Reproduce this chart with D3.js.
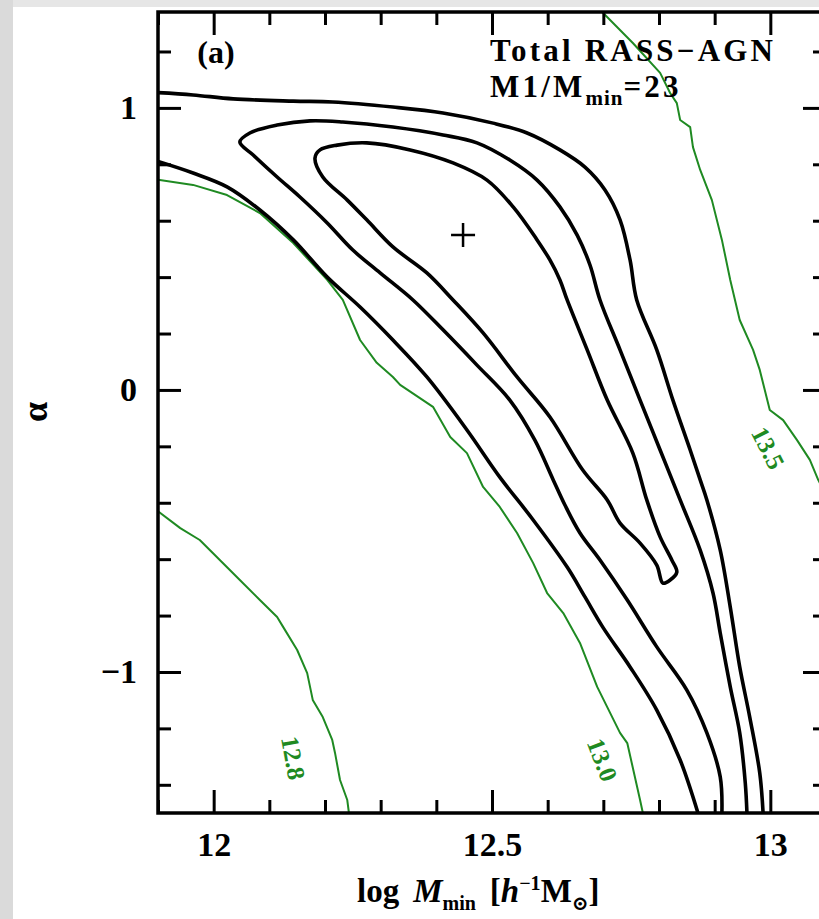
<!DOCTYPE html>
<html><head><meta charset="utf-8">
<script src="https://cdn.jsdelivr.net/npm/d3@7"></script>
<style>
html,body{margin:0;padding:0;background:#fff;}
svg{display:block;}
</style></head><body>
<svg id="chart" width="819" height="919"></svg>
<script>
// Parameter space of the HOD fit: log Mmin (x) against alpha (y)
const xDomain = [11.9, 13.1];
const yDomain = [-1.5, 1.34];
const xMajorTicks = [12, 12.5, 13];
const xTickLabels = ["12", "12.5", "13"];
const yMajorTicks = [-1, 0, 1];
const yTickLabels = ["\u22121", "0", "1"];

// Confidence contours of the fit, [log Mmin, alpha]
const outerUpper = [[11.9,1.054],[11.963,1.046],[12.035,1.032],[12.143,1.024],[12.214,1.021],[12.322,1.003],[12.412,0.982],[12.502,0.946],[12.563,0.911],[12.622,0.851],[12.667,0.790],[12.703,0.709],[12.730,0.603],[12.748,0.461],[12.760,0.319],[12.796,0.142],[12.825,-0.036],[12.856,-0.213],[12.874,-0.319],[12.886,-0.390],[12.910,-0.568],[12.928,-0.770],[12.945,-0.982],[12.963,-1.160],[12.981,-1.358],[12.987,-1.5]];
const outerLower = [[11.9,0.810],[11.963,0.769],[12.024,0.720],[12.083,0.638],[12.143,0.532],[12.204,0.400],[12.263,0.294],[12.322,0.177],[12.383,0.046],[12.455,-0.142],[12.514,-0.309],[12.574,-0.461],[12.635,-0.628],[12.667,-0.734],[12.699,-0.841],[12.748,-0.982],[12.796,-1.135],[12.838,-1.312],[12.870,-1.5]];
const middleContour = [[12.913,-1.5],[12.910,-1.372],[12.886,-1.216],[12.850,-1.064],[12.796,-0.911],[12.743,-0.745],[12.694,-0.603],[12.658,-0.507],[12.631,-0.408],[12.610,-0.319],[12.577,-0.178],[12.532,-0.036],[12.473,0.088],[12.412,0.213],[12.358,0.319],[12.299,0.415],[12.250,0.496],[12.204,0.592],[12.155,0.684],[12.114,0.755],[12.071,0.833],[12.047,0.879],[12.065,0.911],[12.114,0.939],[12.173,0.954],[12.232,0.950],[12.322,0.932],[12.412,0.904],[12.473,0.876],[12.532,0.815],[12.581,0.744],[12.622,0.649],[12.653,0.549],[12.676,0.443],[12.694,0.319],[12.730,0.142],[12.766,-0.036],[12.802,-0.213],[12.838,-0.390],[12.874,-0.568],[12.897,-0.720],[12.910,-0.862],[12.928,-1.053],[12.945,-1.216],[12.955,-1.394],[12.958,-1.5]];
const innerContour = [[12.182,0.822],[12.191,0.851],[12.222,0.868],[12.275,0.876],[12.353,0.851],[12.430,0.805],[12.491,0.744],[12.538,0.649],[12.581,0.532],[12.604,0.461],[12.622,0.390],[12.635,0.319],[12.671,0.142],[12.707,-0.036],[12.753,-0.224],[12.778,-0.390],[12.802,-0.521],[12.823,-0.603],[12.832,-0.646],[12.820,-0.674],[12.807,-0.685],[12.796,-0.621],[12.766,-0.543],[12.730,-0.472],[12.707,-0.390],[12.663,-0.284],[12.604,-0.096],[12.545,0.046],[12.484,0.202],[12.430,0.319],[12.383,0.415],[12.322,0.507],[12.275,0.603],[12.240,0.673],[12.196,0.755]];
const bestFit = [12.448, 0.549];

// Lines of constant log M1 (green), with their labels
const m1Labels = ["12.8", "13.0", "13.5"];
const m1Line128 = [[11.9,-0.430],[11.940,-0.490],[11.975,-0.532],[12.011,-0.603],[12.047,-0.674],[12.083,-0.745],[12.114,-0.805],[12.125,-0.841],[12.150,-0.922],[12.168,-1.004],[12.178,-1.099],[12.196,-1.160],[12.213,-1.241],[12.218,-1.287],[12.227,-1.383],[12.240,-1.454],[12.243,-1.5]];
const m1Line130 = [[11.9,0.745],[11.963,0.727],[12.024,0.691],[12.083,0.627],[12.143,0.521],[12.204,0.390],[12.232,0.319],[12.263,0.177],[12.293,0.096],[12.322,0.046],[12.335,0.018],[12.394,-0.060],[12.425,-0.167],[12.455,-0.224],[12.484,-0.344],[12.514,-0.415],[12.545,-0.507],[12.574,-0.614],[12.599,-0.720],[12.628,-0.791],[12.658,-0.897],[12.689,-1.053],[12.730,-1.216],[12.743,-1.252],[12.766,-1.454],[12.771,-1.5]];
const m1Line135 = [[12.698,1.34],[12.753,1.230],[12.802,1.124],[12.820,1.053],[12.832,1.017],[12.838,0.957],[12.856,0.932],[12.861,0.861],[12.874,0.780],[12.895,0.673],[12.913,0.532],[12.928,0.390],[12.945,0.248],[12.969,0.142],[12.981,0.071],[12.999,-0.071],[13.023,-0.107],[13.048,-0.178],[13.071,-0.248],[13.086,-0.319],[13.100,-0.372]];

const W = 819, H = 919;
const L = 158, R = 826, T = 12, B = 813;
const FONT = "'Liberation Serif','DejaVu Serif',serif";
const GREEN = "#1f8a22";

const svg = d3.select("#chart");
const x = d3.scaleLinear().domain(xDomain).range([L, R]);
const y = d3.scaleLinear().domain(yDomain).range([B, T]);

// scanned-page edge
svg.append("rect").attr("x", 0).attr("y", 0).attr("width", W).attr("height", 7).attr("fill", "#e6e6e6");
svg.append("rect").attr("x", 0).attr("y", 0).attr("width", 13).attr("height", H).attr("fill", "#dadada");

svg.append("clipPath").attr("id", "plotclip")
  .append("rect").attr("x", L).attr("y", T).attr("width", R - L).attr("height", B - T);
const plot = svg.append("g").attr("clip-path", "url(#plotclip)");

const smooth = d3.line().x(d => x(d[0])).y(d => y(d[1])).curve(d3.curveCatmullRom.alpha(0.5));
const smoothClosed = d3.line().x(d => x(d[0])).y(d => y(d[1])).curve(d3.curveCatmullRomClosed.alpha(0.5));
const jagged = d3.line().x(d => x(d[0])).y(d => y(d[1]));

// constant-M1 lines
[m1Line128, m1Line130, m1Line135].forEach(pts => {
  plot.append("path").attr("d", jagged(pts)).attr("fill", "none")
    .attr("stroke", GREEN).attr("stroke-width", 2).attr("stroke-linejoin", "round");
});

// confidence contours
[outerUpper, outerLower, middleContour].forEach(pts => {
  plot.append("path").attr("d", smooth(pts)).attr("fill", "none")
    .attr("stroke", "#000").attr("stroke-width", 3.6).attr("stroke-linejoin", "round");
});
plot.append("path").attr("d", smoothClosed(innerContour)).attr("fill", "none")
  .attr("stroke", "#000").attr("stroke-width", 3.6).attr("stroke-linejoin", "round");

// best-fit point
const bx = x(bestFit[0]), by = y(bestFit[1]);
plot.append("path").attr("d", `M${bx - 12},${by}H${bx + 12}M${bx},${by - 12}V${by + 12}`)
  .attr("stroke", "#000").attr("stroke-width", 2.5);

// labels of the constant-M1 lines, placed along each line
const labelPlaces = [[12.143, -1.305, 80], [12.698, -1.312, 69], [12.996, -0.206, 63]];
m1Labels.forEach((t, i) => {
  const p = labelPlaces[i];
  plot.append("text").text(t)
    .attr("transform", `translate(${x(p[0])},${y(p[1])}) rotate(${p[2]})`)
    .attr("text-anchor", "middle").attr("dominant-baseline", "central")
    .attr("font-family", FONT).attr("font-weight", "bold").attr("font-size", 25)
    .attr("fill", GREEN);
});

// axes: ticks drawn inward on all four sides
const xMinor = d3.range(119, 131).map(v => v / 10).filter(v => !xMajorTicks.some(m => Math.abs(m - v) < 1e-6));
const yMinor = d3.range(-7, 7).map(v => v / 5).filter(v => !yMajorTicks.some(m => Math.abs(m - v) < 1e-6));

function addAxis(gen, tx, ty) {
  const g = svg.append("g").attr("transform", `translate(${tx},${ty})`).call(gen);
  g.select(".domain").remove();
  g.selectAll(".tick line").attr("stroke", "#000").attr("stroke-width", 3);
  g.selectAll("text").attr("font-family", FONT).attr("font-weight", "bold").attr("font-size", 34).attr("fill", "#000");
  return g;
}
addAxis(d3.axisBottom(x).tickValues(xMajorTicks).tickSize(-23).tickPadding(19).tickFormat((d, i) => xTickLabels[i]), 0, B);
addAxis(d3.axisBottom(x).tickValues(xMinor).tickSize(-13).tickFormat(""), 0, B);
addAxis(d3.axisTop(x).tickValues(xMajorTicks).tickSize(-23).tickFormat(""), 0, T);
addAxis(d3.axisTop(x).tickValues(xMinor).tickSize(-13).tickFormat(""), 0, T);
addAxis(d3.axisLeft(y).tickValues(yMajorTicks).tickSize(-23).tickPadding(21).tickFormat((d, i) => yTickLabels[i]), L, 0);
addAxis(d3.axisLeft(y).tickValues(yMinor).tickSize(-13).tickFormat(""), L, 0);
addAxis(d3.axisRight(y).tickValues(yMajorTicks).tickSize(-23).tickFormat(""), R, 0);
addAxis(d3.axisRight(y).tickValues(yMinor).tickSize(-13).tickFormat(""), R, 0);

// frame
svg.append("rect").attr("x", L).attr("y", T).attr("width", R - L).attr("height", B - T)
  .attr("fill", "none").attr("stroke", "#000").attr("stroke-width", 3.5);

// panel annotations
const txt = (xx, yy, size) => svg.append("text").attr("x", xx).attr("y", yy)
  .attr("font-family", FONT).attr("font-weight", "bold").attr("font-size", size).attr("fill", "#000");
txt(216, 63, 32).attr("text-anchor", "middle").text("(a)");
txt(490, 61, 31).attr("letter-spacing", 3.2).text("Total RASS\u2212AGN");
const m1 = txt(490, 97, 31).attr("letter-spacing", 3.2);
m1.append("tspan").text("M1/M");
m1.append("tspan").attr("font-size", 21).attr("letter-spacing", 1).attr("dy", 8).text("min");
m1.append("tspan").attr("dy", -8).text("=23");

// axis titles
const xt = txt(357, 902, 33);
xt.append("tspan").text("log");
xt.append("tspan").attr("dx", 14).attr("font-style", "italic").text("M");
xt.append("tspan").attr("font-size", 20).attr("dy", 8).text("min");
xt.append("tspan").attr("dy", -8).attr("dx", 14).text("[");
xt.append("tspan").attr("font-style", "italic").text("h");
xt.append("tspan").attr("font-size", 20).attr("dy", -12).text("\u22121");
xt.append("tspan").attr("dy", 12).text("M");
xt.append("tspan").attr("font-size", 20).attr("dy", 8).text("\u2299");
xt.append("tspan").attr("dy", -8).text("]");

txt(0, 0, 36).attr("transform", "translate(47,412) rotate(-90)").attr("text-anchor", "middle").text("\u03b1");
</script>
</body></html>
